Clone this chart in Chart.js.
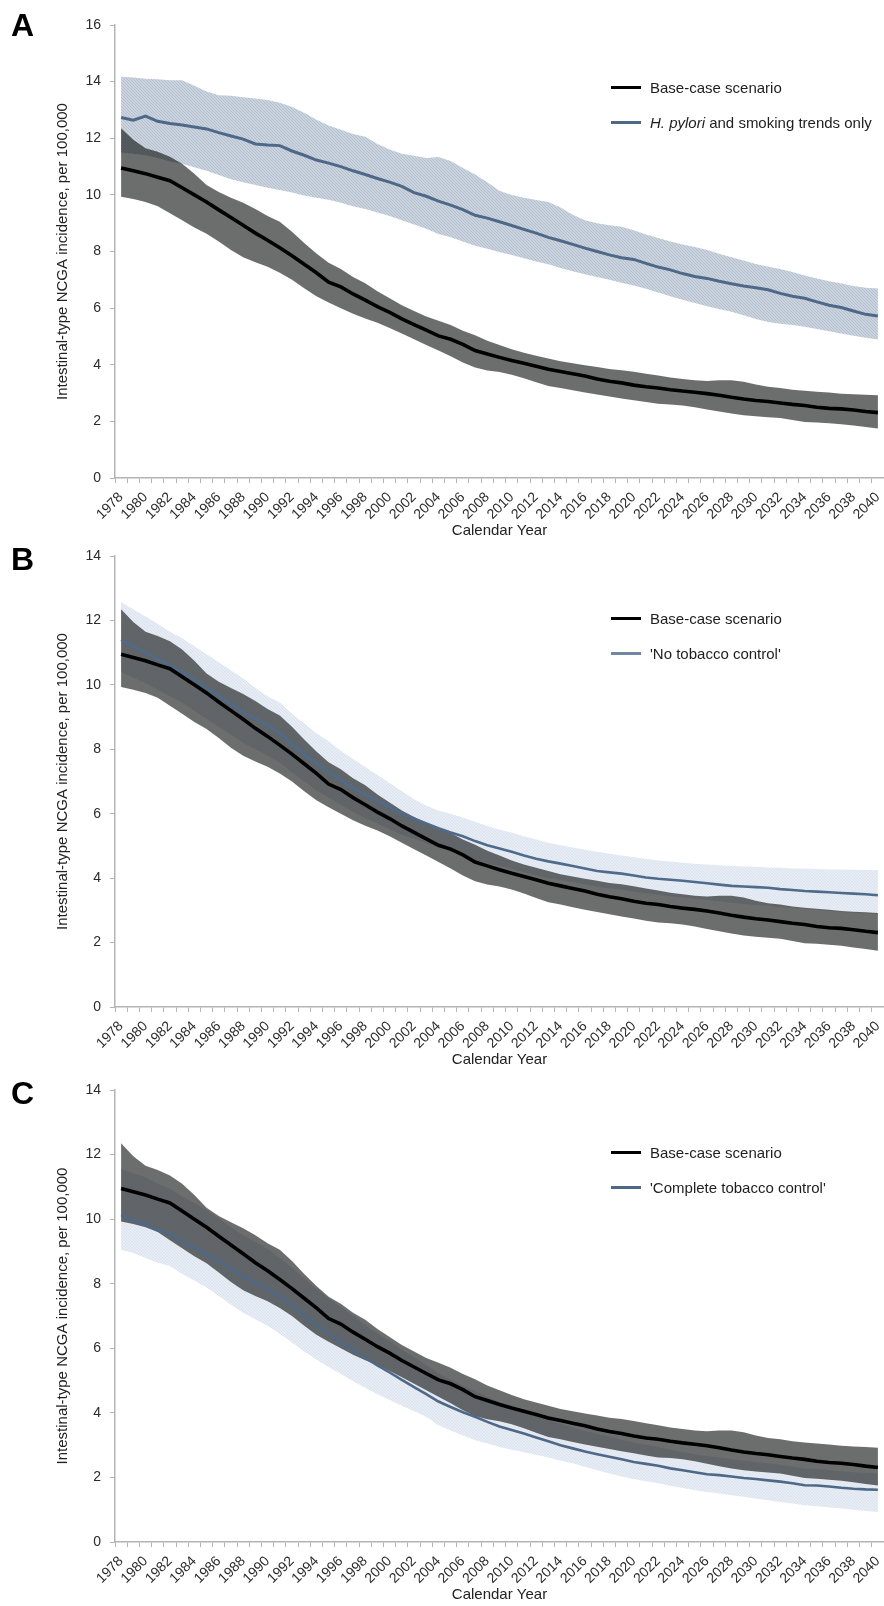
<!DOCTYPE html>
<html>
<head>
<meta charset="utf-8">
<script src="https://cdn.jsdelivr.net/npm/chart.js@4.4.1/dist/chart.umd.min.js"></script>
<style>
  html, body { margin: 0; padding: 0; background: #fff; overflow: hidden; }
  body { width: 884px; height: 1606px; position: relative; font-family: "Liberation Sans", Arial, sans-serif; }
  .panel { position: absolute; left: 0; width: 884px; }
  .letter { position: absolute; left: 11px; font-size: 32px; line-height: 32px; font-weight: bold; color: #000; }
  .leg { position: absolute; left: 611px; height: 18px; display: flex; align-items: center; font-size: 15px; color: #1e1e1e; white-space: nowrap; }
  .leg .sw { display: inline-block; width: 30px; height: 3px; margin-right: 9px; }
</style>
</head>
<body>

<div class="panel" style="top:0px;height:540px"><canvas id="chartA" width="884" height="540"></canvas></div>
<div class="panel" style="top:531px;height:538px"><canvas id="chartB" width="884" height="538"></canvas></div>
<div class="panel" style="top:1065px;height:539px"><canvas id="chartC" width="884" height="539"></canvas></div>

<div class="letter" style="top:9px">A</div>
<div class="letter" style="top:543px">B</div>
<div class="letter" style="top:1077px">C</div>

<div class="leg" style="top:78px"><span class="sw" style="background:#000"></span>Base-case scenario</div>
<div class="leg" style="top:113px"><span class="sw" style="background:#4e6887"></span><span><i>H. pylori</i> and smoking trends only</span></div>

<div class="leg" style="top:609px"><span class="sw" style="background:#000"></span>Base-case scenario</div>
<div class="leg" style="top:644px"><span class="sw" style="background:#6f87a3"></span>'No tobacco control'</div>

<div class="leg" style="top:1143px"><span class="sw" style="background:#000"></span>Base-case scenario</div>
<div class="leg" style="top:1178px"><span class="sw" style="background:#4e6887"></span>'Complete tobacco control'</div>

<script>
// --- DATA ---
const years = [
  '1978','1979','1980','1981','1982','1983','1984','1985','1986','1987',
  '1988','1989','1990','1991','1992','1993','1994','1995','1996','1997',
  '1998','1999','2000','2001','2002','2003','2004','2005','2006','2007',
  '2008','2009','2010','2011','2012','2013','2014','2015','2016','2017',
  '2018','2019','2020','2021','2022','2023','2024','2025','2026','2027',
  '2028','2029','2030','2031','2032','2033','2034','2035','2036','2037',
  '2038','2039','2040'
];

// Base-case scenario (same in all panels)
const baseMean = [
  10.95, 10.85, 10.75, 10.62, 10.5, 10.25, 10.0, 9.75, 9.47, 9.2,
  8.93, 8.65, 8.4, 8.13, 7.85, 7.55, 7.25, 6.92, 6.75, 6.5,
  6.28, 6.05, 5.85, 5.62, 5.42, 5.22, 5.02, 4.9, 4.72, 4.5,
  4.38, 4.26, 4.15, 4.05, 3.95, 3.84, 3.76, 3.68, 3.6, 3.5,
  3.42, 3.36, 3.28, 3.22, 3.18, 3.12, 3.07, 3.03, 2.98, 2.92,
  2.85, 2.79, 2.74, 2.7, 2.65, 2.6, 2.56, 2.5, 2.46, 2.44,
  2.4, 2.35, 2.31
];
const baseHigh = [
  12.35, 11.95, 11.65, 11.52, 11.35, 11.1, 10.75, 10.35, 10.1, 9.9,
  9.72, 9.5, 9.25, 9.05, 8.7, 8.3, 7.93, 7.6, 7.38, 7.1,
  6.88, 6.6, 6.35, 6.1, 5.9, 5.7, 5.55, 5.4, 5.2, 5.04,
  4.85, 4.7, 4.55, 4.42, 4.32, 4.22, 4.12, 4.05, 3.98, 3.92,
  3.85, 3.81, 3.75, 3.68, 3.62, 3.55, 3.5, 3.45, 3.43, 3.45,
  3.45, 3.4, 3.3, 3.22, 3.18, 3.12, 3.08, 3.05, 3.02, 2.98,
  2.96, 2.94, 2.92
];
const baseLow = [
  9.93, 9.85, 9.75, 9.6, 9.35, 9.1, 8.85, 8.63, 8.35, 8.05,
  7.8, 7.62, 7.46, 7.25, 7.0, 6.7, 6.42, 6.2, 6.0, 5.8,
  5.63, 5.48, 5.3, 5.1, 4.9, 4.7, 4.5, 4.3, 4.08, 3.9,
  3.8, 3.74, 3.65, 3.52, 3.38, 3.25, 3.18, 3.1, 3.02, 2.95,
  2.88, 2.81, 2.75, 2.68, 2.62, 2.6, 2.56, 2.5, 2.42, 2.35,
  2.28, 2.22, 2.18, 2.15, 2.12, 2.05, 1.98, 1.96, 1.93, 1.9,
  1.85, 1.8, 1.75
];

// A: H. pylori and smoking trends only
const pyloriMean = [
  12.73, 12.64, 12.78, 12.6, 12.52, 12.47, 12.4, 12.33, 12.2, 12.08,
  11.97, 11.8, 11.76, 11.74, 11.55, 11.4, 11.23, 11.12, 11.0, 10.85,
  10.72, 10.58, 10.45, 10.3, 10.08, 9.95, 9.78, 9.64, 9.48, 9.28,
  9.18, 9.05, 8.92, 8.78, 8.65, 8.5, 8.38, 8.25, 8.12, 8.0,
  7.88, 7.78, 7.72, 7.58, 7.45, 7.35, 7.22, 7.12, 7.05, 6.95,
  6.86, 6.78, 6.72, 6.65, 6.52, 6.42, 6.35, 6.22, 6.1, 6.02,
  5.9, 5.78, 5.72
];
const pyloriHigh = [
  14.17, 14.15, 14.1, 14.08, 14.05, 14.05, 13.85, 13.65, 13.52, 13.5,
  13.45, 13.4, 13.35, 13.25, 13.1, 12.9, 12.65, 12.45, 12.3, 12.15,
  12.05, 11.8, 11.6, 11.45, 11.38, 11.3, 11.34, 11.2, 10.95, 10.72,
  10.45, 10.15, 10.0, 9.9, 9.82, 9.75, 9.55, 9.3, 9.1, 9.0,
  8.93, 8.87, 8.75, 8.6, 8.48, 8.35, 8.25, 8.16, 8.05, 7.92,
  7.8, 7.68, 7.56, 7.46, 7.38, 7.28, 7.15, 7.05, 6.95, 6.87,
  6.78, 6.72, 6.69
];
const pyloriLow = [
  11.5, 11.45, 11.4, 11.3, 11.18, 11.1, 10.98, 10.85, 10.7, 10.55,
  10.45, 10.35, 10.25, 10.17, 10.08, 9.98, 9.9, 9.83, 9.72, 9.6,
  9.5, 9.38, 9.25, 9.1, 8.95, 8.8, 8.62, 8.5, 8.35, 8.2,
  8.1, 7.98, 7.88, 7.76, 7.65, 7.55, 7.42, 7.3, 7.2, 7.1,
  7.0, 6.9, 6.8, 6.68, 6.55, 6.42, 6.3, 6.18, 6.07, 5.97,
  5.87, 5.75, 5.62, 5.51, 5.45, 5.4, 5.34, 5.26, 5.18, 5.1,
  5.02, 4.95, 4.89
];

// B: 'No tobacco control'
const noTobMean = [
  11.4, 11.2, 11.0, 10.8, 10.6, 10.4, 10.15, 9.9, 9.65, 9.4,
  9.15, 8.95, 8.75, 8.5, 8.15, 7.85, 7.55, 7.3, 7.05, 6.8,
  6.6, 6.4, 6.2, 6.0, 5.85, 5.7, 5.55, 5.42, 5.3, 5.15,
  5.02, 4.92, 4.82, 4.7, 4.6, 4.52, 4.45, 4.38, 4.3, 4.22,
  4.18, 4.14, 4.08, 4.02, 3.98, 3.95, 3.92, 3.88, 3.84, 3.8,
  3.76, 3.74, 3.72, 3.7, 3.66, 3.63, 3.6, 3.58, 3.56, 3.54,
  3.52, 3.5, 3.47
];
const noTobHigh = [
  12.57, 12.35, 12.12, 11.9, 11.65, 11.45, 11.2, 10.95, 10.7, 10.45,
  10.2, 9.9, 9.65, 9.45, 9.1, 8.8, 8.5, 8.25, 7.95, 7.7,
  7.45, 7.2, 6.95, 6.7, 6.45, 6.25, 6.1, 6.0, 5.88, 5.75,
  5.62, 5.5, 5.42, 5.3, 5.2, 5.1, 5.02, 4.95, 4.88, 4.82,
  4.76, 4.7, 4.65, 4.6, 4.55, 4.52, 4.48, 4.45, 4.42, 4.4,
  4.38, 4.36, 4.35, 4.33, 4.32, 4.3, 4.3, 4.28, 4.27, 4.27,
  4.26, 4.25, 4.25
];
const noTobLow = [
  10.4, 10.22, 10.05, 9.85, 9.65, 9.45, 9.2, 8.95, 8.7, 8.45,
  8.2, 8.0, 7.8, 7.58, 7.28, 7.0, 6.72, 6.5, 6.28, 6.05,
  5.87, 5.7, 5.52, 5.35, 5.22, 5.08, 4.95, 4.83, 4.72, 4.58,
  4.46, 4.38, 4.28, 4.18, 4.08, 4.0, 3.94, 3.87, 3.8, 3.73,
  3.68, 3.64, 3.58, 3.52, 3.48, 3.44, 3.4, 3.36, 3.32, 3.28,
  3.24, 3.2, 3.17, 3.14, 3.1, 3.07, 3.04, 3.01, 2.98, 2.95,
  2.92, 2.9, 2.87
];

// C: 'Complete tobacco control'
const compTobMean = [
  10.13, 9.98, 9.85, 9.65, 9.55, 9.3, 9.12, 8.92, 8.7, 8.45,
  8.22, 8.05, 7.85, 7.6, 7.32, 7.0, 6.72, 6.45, 6.2, 5.95,
  5.7, 5.47, 5.25, 5.02, 4.8, 4.58, 4.35, 4.18, 4.02, 3.88,
  3.72, 3.58, 3.47, 3.36, 3.24, 3.12, 3.0, 2.9, 2.8, 2.72,
  2.64, 2.56, 2.48, 2.42, 2.36, 2.28, 2.22, 2.16, 2.1, 2.07,
  2.03, 1.98, 1.95, 1.91, 1.87, 1.82, 1.76, 1.75, 1.72, 1.68,
  1.65, 1.63, 1.62
];
const compTobHigh = [
  11.55, 11.42, 11.3, 11.1, 10.95, 10.7, 10.5, 10.28, 10.03, 9.75,
  9.5, 9.3, 9.08, 8.8, 8.5, 8.15, 7.85, 7.55, 7.28, 7.0,
  6.72, 6.46, 6.22, 5.96, 5.72, 5.48, 5.22, 5.03, 4.85, 4.68,
  4.5, 4.34, 4.2, 4.07, 3.93, 3.79, 3.66, 3.55, 3.44, 3.35,
  3.26, 3.17, 3.08, 3.01, 2.94, 2.86, 2.79, 2.72, 2.66, 2.62,
  2.57, 2.52, 2.48, 2.44, 2.39, 2.34, 2.28, 2.26, 2.23, 2.19,
  2.16, 2.14, 2.12
];
const compTobLow = [
  9.05, 8.95, 8.8, 8.65, 8.55, 8.3, 8.1, 7.88, 7.62, 7.35,
  7.1, 6.9, 6.7, 6.45, 6.18, 5.9, 5.65, 5.42, 5.2, 4.98,
  4.78, 4.58, 4.4, 4.22, 4.05, 3.88, 3.62, 3.45, 3.3, 3.15,
  3.05, 2.94, 2.86, 2.78, 2.7, 2.62, 2.52, 2.44, 2.33, 2.22,
  2.12, 2.03, 1.95, 1.88, 1.82, 1.74, 1.67, 1.6, 1.55, 1.5,
  1.45, 1.4, 1.34, 1.29, 1.24, 1.19, 1.14, 1.11, 1.07, 1.04,
  1.0, 0.96, 0.93
];

const yTicksA = [0, 2, 4, 6, 8, 10, 12, 14, 16];
const yTicksBC = [0, 2, 4, 6, 8, 10, 12, 14];

// --- STYLE HELPERS ---
const FONT = '"Liberation Sans", Arial, sans-serif';
const AXIS_GRAY = '#b4b4b4';

// fine diagonal hatch like the Excel pattern fill (low contrast)
function hatch(bg, fg) {
    const c = document.createElement('canvas');
    c.width = 3; c.height = 3;
    const x = c.getContext('2d');
    x.fillStyle = bg;
    x.fillRect(0, 0, 3, 3);
    x.fillStyle = fg;
    for (let i = 0; i < 3; i++) x.fillRect(i, i, 1, 1);
    return x.createPattern(c, 'repeat');
}

function makePanel(canvasId, yTicks, scen, bandFill, lineColor, lineWidth) {
    const ctx = document.getElementById(canvasId).getContext('2d');
    const yMax = yTicks[yTicks.length - 1];
    return new Chart(ctx, {
        type: 'line',
        data: {
            labels: years,
            datasets: [
                // drawn last -> on top
                { data: baseMean, borderColor: '#000', borderWidth: 3.6, pointRadius: 0, fill: false },
                { data: scen.mean, borderColor: lineColor, borderWidth: lineWidth, pointRadius: 0, fill: false },
                { data: baseHigh, borderWidth: 0, borderColor: 'rgba(0,0,0,0)', pointRadius: 0,
                  fill: '+1', backgroundColor: 'rgba(0,3,2,0.575)' },
                { data: baseLow, borderWidth: 0, borderColor: 'rgba(0,0,0,0)', pointRadius: 0, fill: false },
                { data: scen.high, borderWidth: 0, borderColor: 'rgba(0,0,0,0)', pointRadius: 0,
                  fill: '+1', backgroundColor: bandFill },
                { data: scen.low, borderWidth: 0, borderColor: 'rgba(0,0,0,0)', pointRadius: 0, fill: false }
            ]
        },
        options: {
            responsive: false,
            animation: false,
            devicePixelRatio: 1,
            elements: { line: { tension: 0 } },
            layout: { padding: { top: 25, left: 0, right: 0, bottom: 0 } },
            plugins: {
                legend: { display: false },
                tooltip: { enabled: false }
            },
            scales: {
                x: {
                    type: 'category',
                    offset: true,
                    grid: { offset: true, drawOnChartArea: false, drawTicks: true, tickLength: 5, color: AXIS_GRAY },
                    border: { display: true, color: AXIS_GRAY, width: 1.5 },
                    ticks: {
                        autoSkip: false,
                        maxRotation: 45,
                        minRotation: 45,
                        padding: 6,
                        color: '#2b2b2b',
                        font: { family: FONT, size: 14 },
                        callback: function (val, i) { return i % 2 === 0 ? years[i] : ''; }
                    },
                    title: {
                        display: true,
                        text: 'Calendar Year',
                        color: '#222',
                        font: { family: FONT, size: 15 },
                        padding: { top: 0, bottom: 0 }
                    },
                    afterFit: function (scale) {
                        scale.height = 62;
                        scale.paddingLeft = 0;
                        scale.paddingRight = 0;
                    }
                },
                y: {
                    min: 0,
                    max: yMax,
                    afterBuildTicks: function (scale) {
                        scale.ticks = yTicks.map(v => ({ value: v }));
                    },
                    grid: { drawOnChartArea: false, drawTicks: true, tickLength: 5, color: AXIS_GRAY },
                    border: { display: true, color: AXIS_GRAY, width: 1.5 },
                    ticks: {
                        padding: 9,
                        color: '#2b2b2b',
                        font: { family: FONT, size: 14 }
                    },
                    title: {
                        display: true,
                        text: 'Intestinal-type NCGA incidence, per 100,000',
                        color: '#222',
                        font: { family: FONT, size: 15 },
                        padding: { top: 54, bottom: 0 }
                    },
                    afterFit: function (scale) {
                        scale.width = 115;
                        scale.paddingTop = 0;
                        scale.paddingBottom = 0;
                    }
                }
            }
        }
    });
}

makePanel('chartA', yTicksA,
    { mean: pyloriMean, high: pyloriHigh, low: pyloriLow },
    hatch('#cad3de', '#b3bfcc'), '#4e6887', 3);

makePanel('chartB', yTicksBC,
    { mean: noTobMean, high: noTobHigh, low: noTobLow },
    hatch('#e8edf5', '#dae2ed'), '#4f6b8c', 2.6);

makePanel('chartC', yTicksBC,
    { mean: compTobMean, high: compTobHigh, low: compTobLow },
    hatch('#e8edf5', '#dae2ed'), '#4e6887', 2.6);
</script>
</body>
</html>
